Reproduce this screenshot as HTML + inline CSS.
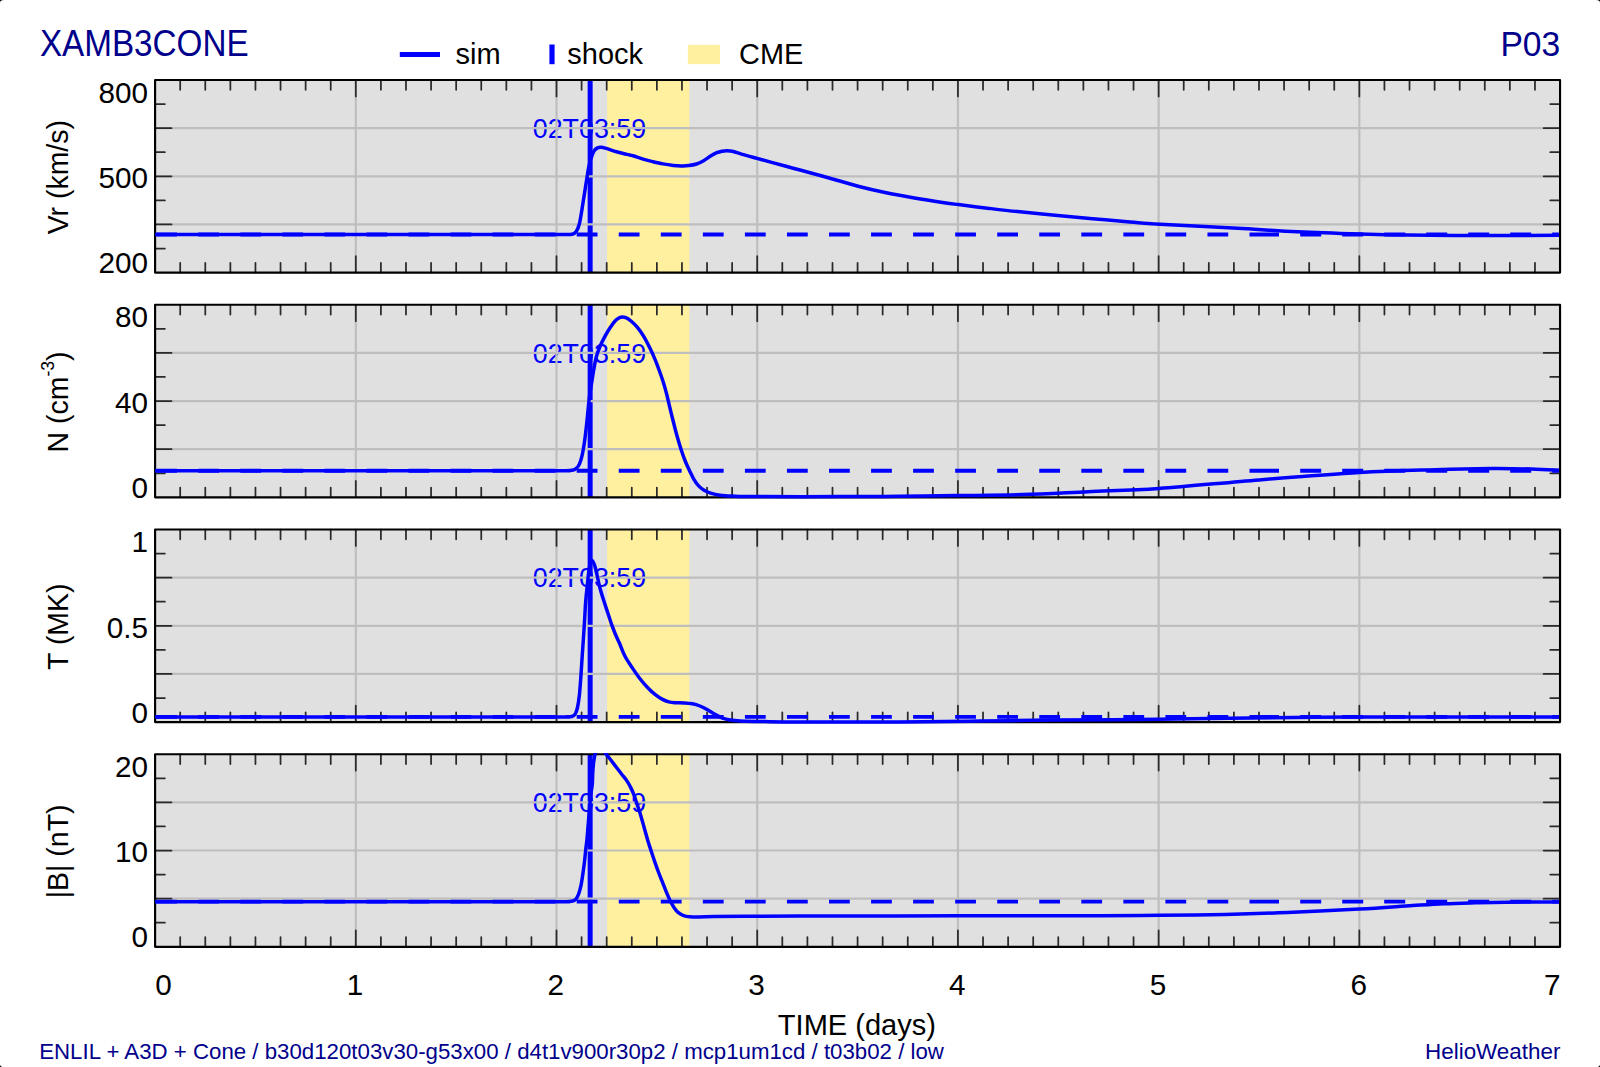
<!DOCTYPE html>
<html lang="en"><head><meta charset="utf-8"><title>XAMB3CONE P03</title>
<style>
html,body{margin:0;padding:0;background:#000;}
body{width:1600px;height:1067px;overflow:hidden;}
#page{position:absolute;left:0;top:0;width:1600px;height:1067px;background:#fff;border-radius:3.8px / 2.8px;overflow:hidden;}
svg{display:block;}
text{font-family:"Liberation Sans", sans-serif;}
</style></head><body><div id="page">
<svg width="1600" height="1067" viewBox="0 0 1600 1067" font-family='"Liberation Sans", sans-serif'>
<text transform="translate(39.90 55.90) scale(0.9240 1)" font-size="36.00" fill="#00008b" text-anchor="start">XAMB3CONE</text>
<text transform="translate(1560.20 55.90) scale(0.9520 1)" font-size="35.30" fill="#00008b" text-anchor="end">P03</text>
<line x1="399.8" y1="54.5" x2="440" y2="54.5" stroke="#0000ff" stroke-width="5.0"/>
<text transform="translate(455.50 64.00)" font-size="29.00" fill="#000" text-anchor="start">sim</text>
<line x1="552" y1="44.5" x2="552" y2="64.2" stroke="#0000ff" stroke-width="5.2"/>
<text transform="translate(567.30 64.00)" font-size="29.00" fill="#000" text-anchor="start">shock</text>
<rect x="687.9" y="44.9" width="32.1" height="19.2" fill="#fff0a0"/>
<text transform="translate(739.10 63.95) scale(0.9560 1)" font-size="30.20" fill="#000" text-anchor="start">CME</text>
<g>
<clipPath id="cp0"><rect x="154.10" y="78.80" width="1406.95" height="195.70"/></clipPath>
<rect x="155.10" y="80.00" width="1404.95" height="192.60" fill="#e0e0e0"/>
<rect x="607.10" y="80.00" width="82.30" height="192.60" fill="#fff0a0"/>
<line x1="590.15" y1="80.00" x2="590.15" y2="272.60" stroke="#0000ff" stroke-width="5.0"/>
<text transform="translate(589.45 137.80) scale(0.9450 1)" font-size="28.40" fill="#0000ff" text-anchor="middle">02T03:59</text>
<path d="M355.81 80.00 V272.60 M556.51 80.00 V272.60 M757.22 80.00 V272.60 M957.93 80.00 V272.60 M1158.64 80.00 V272.60 M1359.34 80.00 V272.60 M155.10 128.15 H1560.05 M155.10 176.30 H1560.05 M155.10 224.45 H1560.05" stroke="#bebebe" stroke-width="2.2" fill="none"/>
<path d="M180.19 80.00 v9.80 M180.19 272.60 v-9.80 M205.28 80.00 v9.80 M205.28 272.60 v-9.80 M230.37 80.00 v9.80 M230.37 272.60 v-9.80 M255.45 80.00 v9.80 M255.45 272.60 v-9.80 M280.54 80.00 v9.80 M280.54 272.60 v-9.80 M305.63 80.00 v9.80 M305.63 272.60 v-9.80 M330.72 80.00 v9.80 M330.72 272.60 v-9.80 M355.81 80.00 v16.40 M355.81 272.60 v-16.40 M380.90 80.00 v9.80 M380.90 272.60 v-9.80 M405.98 80.00 v9.80 M405.98 272.60 v-9.80 M431.07 80.00 v9.80 M431.07 272.60 v-9.80 M456.16 80.00 v9.80 M456.16 272.60 v-9.80 M481.25 80.00 v9.80 M481.25 272.60 v-9.80 M506.34 80.00 v9.80 M506.34 272.60 v-9.80 M531.43 80.00 v9.80 M531.43 272.60 v-9.80 M556.51 80.00 v16.40 M556.51 272.60 v-16.40 M581.60 80.00 v9.80 M581.60 272.60 v-9.80 M606.69 80.00 v9.80 M606.69 272.60 v-9.80 M631.78 80.00 v9.80 M631.78 272.60 v-9.80 M656.87 80.00 v9.80 M656.87 272.60 v-9.80 M681.96 80.00 v9.80 M681.96 272.60 v-9.80 M707.04 80.00 v9.80 M707.04 272.60 v-9.80 M732.13 80.00 v9.80 M732.13 272.60 v-9.80 M757.22 80.00 v16.40 M757.22 272.60 v-16.40 M782.31 80.00 v9.80 M782.31 272.60 v-9.80 M807.40 80.00 v9.80 M807.40 272.60 v-9.80 M832.49 80.00 v9.80 M832.49 272.60 v-9.80 M857.58 80.00 v9.80 M857.58 272.60 v-9.80 M882.66 80.00 v9.80 M882.66 272.60 v-9.80 M907.75 80.00 v9.80 M907.75 272.60 v-9.80 M932.84 80.00 v9.80 M932.84 272.60 v-9.80 M957.93 80.00 v16.40 M957.93 272.60 v-16.40 M983.02 80.00 v9.80 M983.02 272.60 v-9.80 M1008.11 80.00 v9.80 M1008.11 272.60 v-9.80 M1033.19 80.00 v9.80 M1033.19 272.60 v-9.80 M1058.28 80.00 v9.80 M1058.28 272.60 v-9.80 M1083.37 80.00 v9.80 M1083.37 272.60 v-9.80 M1108.46 80.00 v9.80 M1108.46 272.60 v-9.80 M1133.55 80.00 v9.80 M1133.55 272.60 v-9.80 M1158.64 80.00 v16.40 M1158.64 272.60 v-16.40 M1183.72 80.00 v9.80 M1183.72 272.60 v-9.80 M1208.81 80.00 v9.80 M1208.81 272.60 v-9.80 M1233.90 80.00 v9.80 M1233.90 272.60 v-9.80 M1258.99 80.00 v9.80 M1258.99 272.60 v-9.80 M1284.08 80.00 v9.80 M1284.08 272.60 v-9.80 M1309.17 80.00 v9.80 M1309.17 272.60 v-9.80 M1334.25 80.00 v9.80 M1334.25 272.60 v-9.80 M1359.34 80.00 v16.40 M1359.34 272.60 v-16.40 M1384.43 80.00 v9.80 M1384.43 272.60 v-9.80 M1409.52 80.00 v9.80 M1409.52 272.60 v-9.80 M1434.61 80.00 v9.80 M1434.61 272.60 v-9.80 M1459.70 80.00 v9.80 M1459.70 272.60 v-9.80 M1484.78 80.00 v9.80 M1484.78 272.60 v-9.80 M1509.87 80.00 v9.80 M1509.87 272.60 v-9.80 M1534.96 80.00 v9.80 M1534.96 272.60 v-9.80 M155.10 104.08 h9.80 M1560.05 104.08 h-9.80 M155.10 128.15 h16.40 M1560.05 128.15 h-16.40 M155.10 152.22 h9.80 M1560.05 152.22 h-9.80 M155.10 176.30 h16.40 M1560.05 176.30 h-16.40 M155.10 200.38 h9.80 M1560.05 200.38 h-9.80 M155.10 224.45 h16.40 M1560.05 224.45 h-16.40 M155.10 248.53 h9.80 M1560.05 248.53 h-9.80" stroke="#2a2a2a" stroke-width="1.75" stroke-linecap="round" fill="none"/>
<rect x="155.10" y="80.00" width="1404.95" height="192.60" fill="none" stroke="#000" stroke-width="2.15" stroke-linejoin="round"/>
<g clip-path="url(#cp0)">
<path d="M156.20 234.55 H1270.5 M1270 234.55 H1279 " stroke="#0000ff" stroke-width="3.9" stroke-dasharray="20.8 21.25" fill="none"/>
<path d="M1300.2 234.55 H1558.85" stroke="#0000ff" stroke-width="3.9" stroke-dasharray="21 21" fill="none"/>
<path d="M155.10 234.55 C195.92 234.55 333.35 234.55 400.00 234.55 C466.65 234.55 527.50 234.54 555.00 234.55 C582.50 234.56 562.13 234.66 565.00 234.60 C567.87 234.54 570.32 234.73 572.20 234.20 C574.08 233.67 575.10 233.15 576.30 231.40 C577.50 229.65 578.45 227.40 579.40 223.70 C580.35 220.00 581.13 214.37 582.00 209.20 C582.87 204.03 583.73 198.20 584.60 192.70 C585.47 187.20 586.43 180.83 587.20 176.20 C587.97 171.57 588.40 168.33 589.20 164.90 C590.00 161.47 591.13 158.00 592.00 155.60 C592.87 153.20 593.48 151.78 594.40 150.50 C595.32 149.22 596.38 148.45 597.50 147.90 C598.62 147.35 599.65 147.12 601.10 147.20 C602.55 147.28 603.63 147.65 606.20 148.40 C608.77 149.15 613.05 150.70 616.50 151.70 C619.95 152.70 624.15 153.72 626.90 154.40 C629.65 155.08 630.43 155.05 633.00 155.80 C635.57 156.55 639.03 157.93 642.30 158.90 C645.57 159.87 649.17 160.77 652.60 161.60 C656.03 162.43 659.47 163.27 662.90 163.90 C666.33 164.53 670.10 165.07 673.20 165.40 C676.30 165.73 678.92 165.87 681.50 165.90 C684.08 165.93 686.20 165.92 688.70 165.60 C691.20 165.28 694.02 164.82 696.50 164.00 C698.98 163.18 701.25 162.02 703.60 160.70 C705.95 159.38 708.40 157.43 710.60 156.10 C712.80 154.77 714.90 153.52 716.80 152.70 C718.70 151.88 720.28 151.53 722.00 151.20 C723.72 150.87 725.22 150.65 727.10 150.70 C728.98 150.75 730.90 150.93 733.30 151.50 C735.70 152.07 737.55 152.95 741.50 154.10 C745.45 155.25 751.83 156.98 757.00 158.40 C762.17 159.82 766.48 160.97 772.50 162.60 C778.52 164.23 786.23 166.35 793.10 168.20 C799.97 170.05 807.55 172.03 813.70 173.70 C819.85 175.37 822.60 176.11 830.00 178.20 C837.40 180.29 848.73 183.82 858.10 186.25 C867.48 188.68 876.87 190.86 886.25 192.80 C895.63 194.74 905.02 196.30 914.40 197.90 C923.77 199.50 935.17 201.28 942.50 202.40 C949.83 203.52 950.58 203.60 958.40 204.60 C966.22 205.60 979.55 207.23 989.40 208.40 C999.25 209.57 1006.57 210.45 1017.50 211.60 C1028.43 212.75 1042.50 214.12 1055.00 215.30 C1067.50 216.48 1080.00 217.60 1092.50 218.70 C1105.00 219.80 1118.75 220.97 1130.00 221.90 C1141.25 222.83 1141.25 223.20 1160.00 224.30 C1178.75 225.40 1219.58 227.25 1242.50 228.50 C1265.42 229.75 1278.02 230.88 1297.50 231.80 C1316.98 232.72 1341.07 233.47 1359.40 234.00 C1377.73 234.53 1390.32 234.73 1407.50 235.00 C1424.68 235.27 1443.75 235.52 1462.50 235.60 C1481.25 235.68 1503.92 235.55 1520.00 235.50 C1536.08 235.45 1552.50 235.33 1559.00 235.30" stroke="#0000ff" stroke-width="3.5" fill="none" stroke-linejoin="round" stroke-linecap="butt"/>
</g>
<text transform="translate(147.90 102.60) scale(0.9800 1)" font-size="30.30" fill="#000" text-anchor="end">800</text>
<text transform="translate(147.90 188.20) scale(0.9800 1)" font-size="30.30" fill="#000" text-anchor="end">500</text>
<text transform="translate(147.90 273.10) scale(0.9800 1)" font-size="30.30" fill="#000" text-anchor="end">200</text>
<text transform="translate(68.30 177.20) rotate(-90) scale(0.9420 1)" font-size="30.20" fill="#000" text-anchor="middle">Vr (km/s)</text>
</g>
<g>
<clipPath id="cp1"><rect x="154.10" y="303.55" width="1406.95" height="195.70"/></clipPath>
<rect x="155.10" y="304.75" width="1404.95" height="192.60" fill="#e0e0e0"/>
<rect x="607.10" y="304.75" width="82.30" height="192.60" fill="#fff0a0"/>
<line x1="590.15" y1="304.75" x2="590.15" y2="497.35" stroke="#0000ff" stroke-width="5.0"/>
<text transform="translate(589.45 362.55) scale(0.9450 1)" font-size="28.40" fill="#0000ff" text-anchor="middle">02T03:59</text>
<path d="M355.81 304.75 V497.35 M556.51 304.75 V497.35 M757.22 304.75 V497.35 M957.93 304.75 V497.35 M1158.64 304.75 V497.35 M1359.34 304.75 V497.35 M155.10 352.90 H1560.05 M155.10 401.05 H1560.05 M155.10 449.20 H1560.05" stroke="#bebebe" stroke-width="2.2" fill="none"/>
<path d="M180.19 304.75 v9.80 M180.19 497.35 v-9.80 M205.28 304.75 v9.80 M205.28 497.35 v-9.80 M230.37 304.75 v9.80 M230.37 497.35 v-9.80 M255.45 304.75 v9.80 M255.45 497.35 v-9.80 M280.54 304.75 v9.80 M280.54 497.35 v-9.80 M305.63 304.75 v9.80 M305.63 497.35 v-9.80 M330.72 304.75 v9.80 M330.72 497.35 v-9.80 M355.81 304.75 v16.40 M355.81 497.35 v-16.40 M380.90 304.75 v9.80 M380.90 497.35 v-9.80 M405.98 304.75 v9.80 M405.98 497.35 v-9.80 M431.07 304.75 v9.80 M431.07 497.35 v-9.80 M456.16 304.75 v9.80 M456.16 497.35 v-9.80 M481.25 304.75 v9.80 M481.25 497.35 v-9.80 M506.34 304.75 v9.80 M506.34 497.35 v-9.80 M531.43 304.75 v9.80 M531.43 497.35 v-9.80 M556.51 304.75 v16.40 M556.51 497.35 v-16.40 M581.60 304.75 v9.80 M581.60 497.35 v-9.80 M606.69 304.75 v9.80 M606.69 497.35 v-9.80 M631.78 304.75 v9.80 M631.78 497.35 v-9.80 M656.87 304.75 v9.80 M656.87 497.35 v-9.80 M681.96 304.75 v9.80 M681.96 497.35 v-9.80 M707.04 304.75 v9.80 M707.04 497.35 v-9.80 M732.13 304.75 v9.80 M732.13 497.35 v-9.80 M757.22 304.75 v16.40 M757.22 497.35 v-16.40 M782.31 304.75 v9.80 M782.31 497.35 v-9.80 M807.40 304.75 v9.80 M807.40 497.35 v-9.80 M832.49 304.75 v9.80 M832.49 497.35 v-9.80 M857.58 304.75 v9.80 M857.58 497.35 v-9.80 M882.66 304.75 v9.80 M882.66 497.35 v-9.80 M907.75 304.75 v9.80 M907.75 497.35 v-9.80 M932.84 304.75 v9.80 M932.84 497.35 v-9.80 M957.93 304.75 v16.40 M957.93 497.35 v-16.40 M983.02 304.75 v9.80 M983.02 497.35 v-9.80 M1008.11 304.75 v9.80 M1008.11 497.35 v-9.80 M1033.19 304.75 v9.80 M1033.19 497.35 v-9.80 M1058.28 304.75 v9.80 M1058.28 497.35 v-9.80 M1083.37 304.75 v9.80 M1083.37 497.35 v-9.80 M1108.46 304.75 v9.80 M1108.46 497.35 v-9.80 M1133.55 304.75 v9.80 M1133.55 497.35 v-9.80 M1158.64 304.75 v16.40 M1158.64 497.35 v-16.40 M1183.72 304.75 v9.80 M1183.72 497.35 v-9.80 M1208.81 304.75 v9.80 M1208.81 497.35 v-9.80 M1233.90 304.75 v9.80 M1233.90 497.35 v-9.80 M1258.99 304.75 v9.80 M1258.99 497.35 v-9.80 M1284.08 304.75 v9.80 M1284.08 497.35 v-9.80 M1309.17 304.75 v9.80 M1309.17 497.35 v-9.80 M1334.25 304.75 v9.80 M1334.25 497.35 v-9.80 M1359.34 304.75 v16.40 M1359.34 497.35 v-16.40 M1384.43 304.75 v9.80 M1384.43 497.35 v-9.80 M1409.52 304.75 v9.80 M1409.52 497.35 v-9.80 M1434.61 304.75 v9.80 M1434.61 497.35 v-9.80 M1459.70 304.75 v9.80 M1459.70 497.35 v-9.80 M1484.78 304.75 v9.80 M1484.78 497.35 v-9.80 M1509.87 304.75 v9.80 M1509.87 497.35 v-9.80 M1534.96 304.75 v9.80 M1534.96 497.35 v-9.80 M155.10 328.82 h9.80 M1560.05 328.82 h-9.80 M155.10 352.90 h16.40 M1560.05 352.90 h-16.40 M155.10 376.98 h9.80 M1560.05 376.98 h-9.80 M155.10 401.05 h16.40 M1560.05 401.05 h-16.40 M155.10 425.12 h9.80 M1560.05 425.12 h-9.80 M155.10 449.20 h16.40 M1560.05 449.20 h-16.40 M155.10 473.27 h9.80 M1560.05 473.27 h-9.80" stroke="#2a2a2a" stroke-width="1.75" stroke-linecap="round" fill="none"/>
<rect x="155.10" y="304.75" width="1404.95" height="192.60" fill="none" stroke="#000" stroke-width="2.15" stroke-linejoin="round"/>
<g clip-path="url(#cp1)">
<path d="M156.20 470.75 H1270.5 M1270 470.75 H1279 " stroke="#0000ff" stroke-width="3.9" stroke-dasharray="20.8 21.25" fill="none"/>
<path d="M1300.2 470.75 H1558.85" stroke="#0000ff" stroke-width="3.9" stroke-dasharray="21 21" fill="none"/>
<path d="M155.10 470.70 C195.92 470.70 333.35 470.70 400.00 470.70 C466.65 470.70 527.50 470.68 555.00 470.70 C582.50 470.72 562.13 470.87 565.00 470.80 C567.87 470.73 570.32 470.70 572.20 470.30 C574.08 469.90 575.10 469.43 576.30 468.40 C577.50 467.37 578.45 466.20 579.40 464.10 C580.35 462.00 581.22 459.07 582.00 455.80 C582.78 452.53 583.50 448.28 584.10 444.50 C584.70 440.72 585.08 437.40 585.60 433.10 C586.12 428.80 586.72 423.33 587.20 418.70 C587.68 414.07 588.08 409.25 588.50 405.30 C588.92 401.35 589.32 397.88 589.70 395.00 C590.08 392.12 590.42 390.42 590.80 388.00 C591.18 385.58 591.48 383.68 592.00 380.50 C592.52 377.32 593.17 372.90 593.90 368.90 C594.63 364.90 595.37 360.28 596.40 356.50 C597.43 352.72 598.63 349.63 600.10 346.20 C601.57 342.77 603.48 339.07 605.20 335.90 C606.92 332.73 608.68 329.77 610.40 327.20 C612.12 324.63 613.97 322.10 615.50 320.50 C617.03 318.90 618.48 318.20 619.60 317.60 C620.72 317.00 621.17 316.90 622.20 316.90 C623.23 316.90 624.33 316.92 625.80 317.60 C627.27 318.28 629.10 319.40 631.00 321.00 C632.90 322.60 635.13 324.72 637.20 327.20 C639.27 329.68 641.35 332.55 643.40 335.90 C645.45 339.25 647.62 343.52 649.50 347.30 C651.38 351.08 652.98 354.48 654.70 358.60 C656.42 362.72 658.25 367.70 659.80 372.00 C661.35 376.30 662.80 380.48 664.00 384.40 C665.20 388.32 666.03 391.67 667.00 395.50 C667.97 399.33 668.70 402.85 669.80 407.40 C670.90 411.95 672.33 417.82 673.60 422.80 C674.87 427.78 676.08 432.65 677.40 437.30 C678.72 441.95 680.13 446.58 681.50 450.70 C682.87 454.82 684.22 458.58 685.60 462.00 C686.98 465.42 688.44 468.36 689.80 471.20 C691.16 474.04 692.32 476.65 693.75 479.05 C695.18 481.45 696.67 483.73 698.40 485.60 C700.12 487.48 702.07 489.05 704.10 490.30 C706.13 491.55 707.95 492.28 710.60 493.10 C713.25 493.92 716.40 494.70 720.00 495.20 C723.60 495.70 726.27 495.87 732.20 496.10 C738.13 496.33 737.63 496.52 755.60 496.60 C773.57 496.68 815.93 496.65 840.00 496.60 C864.07 496.55 880.52 496.47 900.00 496.30 C919.48 496.13 936.48 495.88 956.90 495.60 C977.32 495.32 1000.65 495.25 1022.50 494.60 C1044.35 493.95 1065.25 492.72 1088.00 491.70 C1110.75 490.68 1130.50 490.47 1159.00 488.50 C1187.50 486.53 1225.60 482.57 1259.00 479.90 C1292.40 477.23 1330.07 474.20 1359.40 472.50 C1388.73 470.80 1413.23 470.35 1435.00 469.70 C1456.77 469.05 1473.95 468.72 1490.00 468.60 C1506.05 468.48 1519.80 468.72 1531.30 469.00 C1542.80 469.28 1554.38 470.08 1559.00 470.30" stroke="#0000ff" stroke-width="3.5" fill="none" stroke-linejoin="round" stroke-linecap="butt"/>
</g>
<text transform="translate(147.90 327.35) scale(0.9800 1)" font-size="30.30" fill="#000" text-anchor="end">80</text>
<text transform="translate(147.90 412.95) scale(0.9800 1)" font-size="30.30" fill="#000" text-anchor="end">40</text>
<text transform="translate(147.90 497.85) scale(0.9800 1)" font-size="30.30" fill="#000" text-anchor="end">0</text>
<text transform="translate(68.30 401.95) rotate(-90) scale(0.9420 1)" font-size="30.20" fill="#000" text-anchor="middle">N (cm<tspan dy="-14.3" font-size="18.7">-3</tspan><tspan dy="14.3">)</tspan></text>
</g>
<g>
<clipPath id="cp2"><rect x="154.10" y="528.30" width="1406.95" height="195.70"/></clipPath>
<rect x="155.10" y="529.50" width="1404.95" height="192.60" fill="#e0e0e0"/>
<rect x="607.10" y="529.50" width="82.30" height="192.60" fill="#fff0a0"/>
<line x1="590.15" y1="529.50" x2="590.15" y2="722.10" stroke="#0000ff" stroke-width="5.0"/>
<text transform="translate(589.45 587.30) scale(0.9450 1)" font-size="28.40" fill="#0000ff" text-anchor="middle">02T03:59</text>
<path d="M355.81 529.50 V722.10 M556.51 529.50 V722.10 M757.22 529.50 V722.10 M957.93 529.50 V722.10 M1158.64 529.50 V722.10 M1359.34 529.50 V722.10 M155.10 577.65 H1560.05 M155.10 625.80 H1560.05 M155.10 673.95 H1560.05" stroke="#bebebe" stroke-width="2.2" fill="none"/>
<path d="M180.19 529.50 v9.80 M180.19 722.10 v-9.80 M205.28 529.50 v9.80 M205.28 722.10 v-9.80 M230.37 529.50 v9.80 M230.37 722.10 v-9.80 M255.45 529.50 v9.80 M255.45 722.10 v-9.80 M280.54 529.50 v9.80 M280.54 722.10 v-9.80 M305.63 529.50 v9.80 M305.63 722.10 v-9.80 M330.72 529.50 v9.80 M330.72 722.10 v-9.80 M355.81 529.50 v16.40 M355.81 722.10 v-16.40 M380.90 529.50 v9.80 M380.90 722.10 v-9.80 M405.98 529.50 v9.80 M405.98 722.10 v-9.80 M431.07 529.50 v9.80 M431.07 722.10 v-9.80 M456.16 529.50 v9.80 M456.16 722.10 v-9.80 M481.25 529.50 v9.80 M481.25 722.10 v-9.80 M506.34 529.50 v9.80 M506.34 722.10 v-9.80 M531.43 529.50 v9.80 M531.43 722.10 v-9.80 M556.51 529.50 v16.40 M556.51 722.10 v-16.40 M581.60 529.50 v9.80 M581.60 722.10 v-9.80 M606.69 529.50 v9.80 M606.69 722.10 v-9.80 M631.78 529.50 v9.80 M631.78 722.10 v-9.80 M656.87 529.50 v9.80 M656.87 722.10 v-9.80 M681.96 529.50 v9.80 M681.96 722.10 v-9.80 M707.04 529.50 v9.80 M707.04 722.10 v-9.80 M732.13 529.50 v9.80 M732.13 722.10 v-9.80 M757.22 529.50 v16.40 M757.22 722.10 v-16.40 M782.31 529.50 v9.80 M782.31 722.10 v-9.80 M807.40 529.50 v9.80 M807.40 722.10 v-9.80 M832.49 529.50 v9.80 M832.49 722.10 v-9.80 M857.58 529.50 v9.80 M857.58 722.10 v-9.80 M882.66 529.50 v9.80 M882.66 722.10 v-9.80 M907.75 529.50 v9.80 M907.75 722.10 v-9.80 M932.84 529.50 v9.80 M932.84 722.10 v-9.80 M957.93 529.50 v16.40 M957.93 722.10 v-16.40 M983.02 529.50 v9.80 M983.02 722.10 v-9.80 M1008.11 529.50 v9.80 M1008.11 722.10 v-9.80 M1033.19 529.50 v9.80 M1033.19 722.10 v-9.80 M1058.28 529.50 v9.80 M1058.28 722.10 v-9.80 M1083.37 529.50 v9.80 M1083.37 722.10 v-9.80 M1108.46 529.50 v9.80 M1108.46 722.10 v-9.80 M1133.55 529.50 v9.80 M1133.55 722.10 v-9.80 M1158.64 529.50 v16.40 M1158.64 722.10 v-16.40 M1183.72 529.50 v9.80 M1183.72 722.10 v-9.80 M1208.81 529.50 v9.80 M1208.81 722.10 v-9.80 M1233.90 529.50 v9.80 M1233.90 722.10 v-9.80 M1258.99 529.50 v9.80 M1258.99 722.10 v-9.80 M1284.08 529.50 v9.80 M1284.08 722.10 v-9.80 M1309.17 529.50 v9.80 M1309.17 722.10 v-9.80 M1334.25 529.50 v9.80 M1334.25 722.10 v-9.80 M1359.34 529.50 v16.40 M1359.34 722.10 v-16.40 M1384.43 529.50 v9.80 M1384.43 722.10 v-9.80 M1409.52 529.50 v9.80 M1409.52 722.10 v-9.80 M1434.61 529.50 v9.80 M1434.61 722.10 v-9.80 M1459.70 529.50 v9.80 M1459.70 722.10 v-9.80 M1484.78 529.50 v9.80 M1484.78 722.10 v-9.80 M1509.87 529.50 v9.80 M1509.87 722.10 v-9.80 M1534.96 529.50 v9.80 M1534.96 722.10 v-9.80 M155.10 553.58 h9.80 M1560.05 553.58 h-9.80 M155.10 577.65 h16.40 M1560.05 577.65 h-16.40 M155.10 601.73 h9.80 M1560.05 601.73 h-9.80 M155.10 625.80 h16.40 M1560.05 625.80 h-16.40 M155.10 649.88 h9.80 M1560.05 649.88 h-9.80 M155.10 673.95 h16.40 M1560.05 673.95 h-16.40 M155.10 698.02 h9.80 M1560.05 698.02 h-9.80" stroke="#2a2a2a" stroke-width="1.75" stroke-linecap="round" fill="none"/>
<rect x="155.10" y="529.50" width="1404.95" height="192.60" fill="none" stroke="#000" stroke-width="2.15" stroke-linejoin="round"/>
<g clip-path="url(#cp2)">
<path d="M156.20 716.90 H1270.5 M1270 716.90 H1279 " stroke="#0000ff" stroke-width="3.9" stroke-dasharray="20.8 21.25" fill="none"/>
<path d="M1300.2 716.90 H1558.85" stroke="#0000ff" stroke-width="3.9" stroke-dasharray="21 21" fill="none"/>
<path d="M155.10 716.90 C195.92 716.90 333.35 716.90 400.00 716.90 C466.65 716.90 527.50 716.90 555.00 716.90 C582.50 716.90 562.18 716.97 565.00 716.90 C567.82 716.83 570.23 716.92 571.90 716.50 C573.57 716.08 574.07 715.90 575.00 714.40 C575.93 712.90 576.77 710.73 577.50 707.50 C578.23 704.27 578.83 700.21 579.40 695.00 C579.97 689.79 580.45 682.50 580.90 676.25 C581.35 670.00 581.68 663.75 582.10 657.50 C582.52 651.25 582.98 645.00 583.40 638.75 C583.82 632.50 584.23 626.01 584.60 620.00 C584.97 613.99 585.17 608.33 585.60 602.70 C586.03 597.07 586.70 591.15 587.20 586.20 C587.70 581.25 588.17 576.53 588.60 573.00 C589.03 569.47 589.40 567.07 589.80 565.00 C590.20 562.93 590.60 561.35 591.00 560.60 C591.40 559.85 591.80 560.17 592.20 560.50 C592.60 560.83 592.95 561.65 593.40 562.60 C593.85 563.55 594.30 564.15 594.90 566.20 C595.50 568.25 596.23 571.57 597.00 574.90 C597.77 578.23 598.48 582.25 599.50 586.20 C600.52 590.15 601.77 594.30 603.10 598.60 C604.43 602.90 606.08 607.70 607.50 612.00 C608.92 616.30 610.27 620.65 611.60 624.40 C612.93 628.15 614.17 631.32 615.50 634.50 C616.83 637.68 618.02 639.88 619.60 643.50 C621.18 647.12 622.85 652.15 625.00 656.25 C627.15 660.35 630.00 664.35 632.50 668.10 C635.00 671.85 637.50 675.52 640.00 678.75 C642.50 681.98 645.00 684.89 647.50 687.50 C650.00 690.11 652.50 692.42 655.00 694.40 C657.50 696.38 660.21 698.15 662.50 699.40 C664.79 700.65 666.67 701.34 668.75 701.90 C670.83 702.46 672.50 702.58 675.00 702.75 C677.50 702.92 680.83 702.73 683.75 702.90 C686.67 703.07 689.79 703.23 692.50 703.75 C695.21 704.27 697.50 705.00 700.00 706.00 C702.50 707.00 705.00 708.35 707.50 709.75 C710.00 711.15 712.50 713.01 715.00 714.40 C717.50 715.79 720.00 717.17 722.50 718.10 C725.00 719.03 727.08 719.52 730.00 720.00 C732.92 720.48 734.17 720.73 740.00 721.00 C745.83 721.27 755.00 721.45 765.00 721.60 C775.00 721.75 777.50 721.85 800.00 721.90 C822.50 721.95 870.00 722.05 900.00 721.90 C930.00 721.75 954.50 721.30 980.00 721.00 C1005.50 720.70 1023.33 720.39 1053.00 720.10 C1082.67 719.81 1125.17 719.60 1158.00 719.25 C1190.83 718.90 1218.00 718.38 1250.00 718.00 C1282.00 717.62 1316.67 717.18 1350.00 717.00 C1383.33 716.82 1415.17 716.92 1450.00 716.90 C1484.83 716.88 1540.83 716.90 1559.00 716.90" stroke="#0000ff" stroke-width="3.5" fill="none" stroke-linejoin="round" stroke-linecap="butt"/>
</g>
<text transform="translate(147.90 552.10) scale(0.9800 1)" font-size="30.30" fill="#000" text-anchor="end">1</text>
<text transform="translate(147.90 637.70) scale(0.9800 1)" font-size="30.30" fill="#000" text-anchor="end">0.5</text>
<text transform="translate(147.90 722.60) scale(0.9800 1)" font-size="30.30" fill="#000" text-anchor="end">0</text>
<text transform="translate(68.30 626.70) rotate(-90) scale(0.9420 1)" font-size="30.20" fill="#000" text-anchor="middle">T (MK)</text>
</g>
<g>
<clipPath id="cp3"><rect x="154.10" y="753.00" width="1406.95" height="195.70"/></clipPath>
<rect x="155.10" y="754.20" width="1404.95" height="192.60" fill="#e0e0e0"/>
<rect x="607.10" y="754.20" width="82.30" height="192.60" fill="#fff0a0"/>
<line x1="590.15" y1="754.20" x2="590.15" y2="946.80" stroke="#0000ff" stroke-width="5.0"/>
<text transform="translate(589.45 812.00) scale(0.9450 1)" font-size="28.40" fill="#0000ff" text-anchor="middle">02T03:59</text>
<path d="M355.81 754.20 V946.80 M556.51 754.20 V946.80 M757.22 754.20 V946.80 M957.93 754.20 V946.80 M1158.64 754.20 V946.80 M1359.34 754.20 V946.80 M155.10 802.35 H1560.05 M155.10 850.50 H1560.05 M155.10 898.65 H1560.05" stroke="#bebebe" stroke-width="2.2" fill="none"/>
<path d="M180.19 754.20 v9.80 M180.19 946.80 v-9.80 M205.28 754.20 v9.80 M205.28 946.80 v-9.80 M230.37 754.20 v9.80 M230.37 946.80 v-9.80 M255.45 754.20 v9.80 M255.45 946.80 v-9.80 M280.54 754.20 v9.80 M280.54 946.80 v-9.80 M305.63 754.20 v9.80 M305.63 946.80 v-9.80 M330.72 754.20 v9.80 M330.72 946.80 v-9.80 M355.81 754.20 v16.40 M355.81 946.80 v-16.40 M380.90 754.20 v9.80 M380.90 946.80 v-9.80 M405.98 754.20 v9.80 M405.98 946.80 v-9.80 M431.07 754.20 v9.80 M431.07 946.80 v-9.80 M456.16 754.20 v9.80 M456.16 946.80 v-9.80 M481.25 754.20 v9.80 M481.25 946.80 v-9.80 M506.34 754.20 v9.80 M506.34 946.80 v-9.80 M531.43 754.20 v9.80 M531.43 946.80 v-9.80 M556.51 754.20 v16.40 M556.51 946.80 v-16.40 M581.60 754.20 v9.80 M581.60 946.80 v-9.80 M606.69 754.20 v9.80 M606.69 946.80 v-9.80 M631.78 754.20 v9.80 M631.78 946.80 v-9.80 M656.87 754.20 v9.80 M656.87 946.80 v-9.80 M681.96 754.20 v9.80 M681.96 946.80 v-9.80 M707.04 754.20 v9.80 M707.04 946.80 v-9.80 M732.13 754.20 v9.80 M732.13 946.80 v-9.80 M757.22 754.20 v16.40 M757.22 946.80 v-16.40 M782.31 754.20 v9.80 M782.31 946.80 v-9.80 M807.40 754.20 v9.80 M807.40 946.80 v-9.80 M832.49 754.20 v9.80 M832.49 946.80 v-9.80 M857.58 754.20 v9.80 M857.58 946.80 v-9.80 M882.66 754.20 v9.80 M882.66 946.80 v-9.80 M907.75 754.20 v9.80 M907.75 946.80 v-9.80 M932.84 754.20 v9.80 M932.84 946.80 v-9.80 M957.93 754.20 v16.40 M957.93 946.80 v-16.40 M983.02 754.20 v9.80 M983.02 946.80 v-9.80 M1008.11 754.20 v9.80 M1008.11 946.80 v-9.80 M1033.19 754.20 v9.80 M1033.19 946.80 v-9.80 M1058.28 754.20 v9.80 M1058.28 946.80 v-9.80 M1083.37 754.20 v9.80 M1083.37 946.80 v-9.80 M1108.46 754.20 v9.80 M1108.46 946.80 v-9.80 M1133.55 754.20 v9.80 M1133.55 946.80 v-9.80 M1158.64 754.20 v16.40 M1158.64 946.80 v-16.40 M1183.72 754.20 v9.80 M1183.72 946.80 v-9.80 M1208.81 754.20 v9.80 M1208.81 946.80 v-9.80 M1233.90 754.20 v9.80 M1233.90 946.80 v-9.80 M1258.99 754.20 v9.80 M1258.99 946.80 v-9.80 M1284.08 754.20 v9.80 M1284.08 946.80 v-9.80 M1309.17 754.20 v9.80 M1309.17 946.80 v-9.80 M1334.25 754.20 v9.80 M1334.25 946.80 v-9.80 M1359.34 754.20 v16.40 M1359.34 946.80 v-16.40 M1384.43 754.20 v9.80 M1384.43 946.80 v-9.80 M1409.52 754.20 v9.80 M1409.52 946.80 v-9.80 M1434.61 754.20 v9.80 M1434.61 946.80 v-9.80 M1459.70 754.20 v9.80 M1459.70 946.80 v-9.80 M1484.78 754.20 v9.80 M1484.78 946.80 v-9.80 M1509.87 754.20 v9.80 M1509.87 946.80 v-9.80 M1534.96 754.20 v9.80 M1534.96 946.80 v-9.80 M155.10 778.28 h9.80 M1560.05 778.28 h-9.80 M155.10 802.35 h16.40 M1560.05 802.35 h-16.40 M155.10 826.43 h9.80 M1560.05 826.43 h-9.80 M155.10 850.50 h16.40 M1560.05 850.50 h-16.40 M155.10 874.58 h9.80 M1560.05 874.58 h-9.80 M155.10 898.65 h16.40 M1560.05 898.65 h-16.40 M155.10 922.73 h9.80 M1560.05 922.73 h-9.80" stroke="#2a2a2a" stroke-width="1.75" stroke-linecap="round" fill="none"/>
<rect x="155.10" y="754.20" width="1404.95" height="192.60" fill="none" stroke="#000" stroke-width="2.15" stroke-linejoin="round"/>
<g clip-path="url(#cp3)">
<path d="M156.20 901.65 H1270.5 M1270 901.65 H1279 " stroke="#0000ff" stroke-width="3.9" stroke-dasharray="20.8 21.25" fill="none"/>
<path d="M1300.2 901.65 H1558.85" stroke="#0000ff" stroke-width="3.9" stroke-dasharray="21 21" fill="none"/>
<path d="M155.10 901.65 C195.92 901.65 333.35 901.65 400.00 901.65 C466.65 901.65 527.50 901.65 555.00 901.65 C582.50 901.65 562.30 901.71 565.00 901.65 C567.70 901.59 569.48 901.61 571.20 901.30 C572.92 900.99 574.10 900.92 575.30 899.80 C576.50 898.68 577.45 897.00 578.40 894.60 C579.35 892.20 580.23 889.00 581.00 885.40 C581.77 881.80 582.40 877.13 583.00 873.00 C583.60 868.87 584.12 864.73 584.60 860.60 C585.08 856.47 585.52 851.63 585.90 848.20 C586.28 844.77 586.55 843.53 586.90 840.00 C587.25 836.47 587.58 832.00 588.00 827.00 C588.42 822.00 588.93 815.33 589.40 810.00 C589.87 804.67 590.32 799.33 590.80 795.00 C591.28 790.67 591.98 787.55 592.30 784.00 C592.62 780.45 592.52 776.97 592.70 773.70 C592.88 770.43 593.12 767.15 593.40 764.40 C593.68 761.65 594.12 758.92 594.40 757.20 C594.68 755.48 594.83 755.30 595.10 754.10 C595.37 752.90 595.85 750.68 596.00 750.00" stroke="#0000ff" stroke-width="3.5" fill="none" stroke-linejoin="round" stroke-linecap="butt"/>
<path d="M603.20 750.00 C603.70 750.68 604.83 752.30 606.20 754.10 C607.57 755.90 609.68 758.57 611.40 760.80 C613.12 763.03 614.78 765.27 616.50 767.50 C618.22 769.73 619.97 771.97 621.70 774.20 C623.43 776.43 625.35 778.58 626.90 780.90 C628.45 783.22 629.80 785.68 631.00 788.10 C632.20 790.52 633.07 792.65 634.10 795.40 C635.13 798.15 636.17 801.52 637.20 804.60 C638.23 807.68 639.10 809.93 640.30 813.90 C641.50 817.87 643.15 823.97 644.40 828.40 C645.65 832.83 646.77 837.02 647.80 840.50 C648.83 843.98 649.45 845.78 650.60 849.30 C651.75 852.82 653.33 857.65 654.70 861.60 C656.07 865.55 657.43 869.38 658.80 873.00 C660.17 876.62 661.53 879.87 662.90 883.30 C664.27 886.73 665.78 890.68 667.00 893.60 C668.22 896.52 668.98 898.40 670.20 900.80 C671.42 903.20 672.93 906.02 674.30 908.00 C675.67 909.98 676.85 911.43 678.40 912.70 C679.95 913.97 681.72 914.92 683.60 915.60 C685.48 916.28 687.13 916.57 689.70 916.80 C692.27 917.03 694.78 917.03 699.00 917.00 C703.22 916.97 707.35 916.72 715.00 916.60 C722.65 916.48 730.73 916.38 744.90 916.30 C759.07 916.22 764.23 916.18 800.00 916.10 C835.77 916.02 909.50 915.87 959.50 915.80 C1009.50 915.73 1066.68 915.78 1100.00 915.70 C1133.32 915.62 1138.57 915.52 1159.40 915.30 C1180.23 915.08 1203.65 914.87 1225.00 914.40 C1246.35 913.93 1265.10 913.38 1287.50 912.50 C1309.90 911.62 1338.57 910.25 1359.40 909.10 C1380.23 907.95 1398.44 906.49 1412.50 905.60 C1426.56 904.71 1433.33 904.22 1443.75 903.75 C1454.17 903.28 1464.62 903.06 1475.00 902.80 C1485.38 902.54 1492.00 902.35 1506.00 902.20 C1520.00 902.05 1550.17 901.95 1559.00 901.90" stroke="#0000ff" stroke-width="3.5" fill="none" stroke-linejoin="round" stroke-linecap="butt"/>
</g>
<text transform="translate(147.90 776.80) scale(0.9800 1)" font-size="30.30" fill="#000" text-anchor="end">20</text>
<text transform="translate(147.90 862.40) scale(0.9800 1)" font-size="30.30" fill="#000" text-anchor="end">10</text>
<text transform="translate(147.90 947.30) scale(0.9800 1)" font-size="30.30" fill="#000" text-anchor="end">0</text>
<text transform="translate(68.30 851.40) rotate(-90) scale(0.9420 1)" font-size="30.20" fill="#000" text-anchor="middle">|B| (nT)</text>
</g>
<text transform="translate(155.20 995.20) scale(0.9800 1)" font-size="30.30" fill="#000" text-anchor="start">0</text>
<text transform="translate(355.11 995.20) scale(0.9800 1)" font-size="30.30" fill="#000" text-anchor="middle">1</text>
<text transform="translate(555.81 995.20) scale(0.9800 1)" font-size="30.30" fill="#000" text-anchor="middle">2</text>
<text transform="translate(756.52 995.20) scale(0.9800 1)" font-size="30.30" fill="#000" text-anchor="middle">3</text>
<text transform="translate(957.23 995.20) scale(0.9800 1)" font-size="30.30" fill="#000" text-anchor="middle">4</text>
<text transform="translate(1157.94 995.20) scale(0.9800 1)" font-size="30.30" fill="#000" text-anchor="middle">5</text>
<text transform="translate(1358.64 995.20) scale(0.9800 1)" font-size="30.30" fill="#000" text-anchor="middle">6</text>
<text transform="translate(1560.60 995.20) scale(0.9800 1)" font-size="30.30" fill="#000" text-anchor="end">7</text>
<text transform="translate(856.90 1034.60) scale(0.9560 1)" font-size="30.40" fill="#000" text-anchor="middle">TIME (days)</text>
<text transform="translate(39.20 1058.70) scale(0.9850 1)" font-size="22.60" fill="#00008b" text-anchor="start">ENLIL + A3D + Cone / b30d120t03v30-g53x00 / d4t1v900r30p2 / mcp1um1cd / t03b02 / low</text>
<text transform="translate(1560.40 1058.70) scale(0.9920 1)" font-size="22.60" fill="#00008b" text-anchor="end">HelioWeather</text>
</svg>
</div></body></html>
